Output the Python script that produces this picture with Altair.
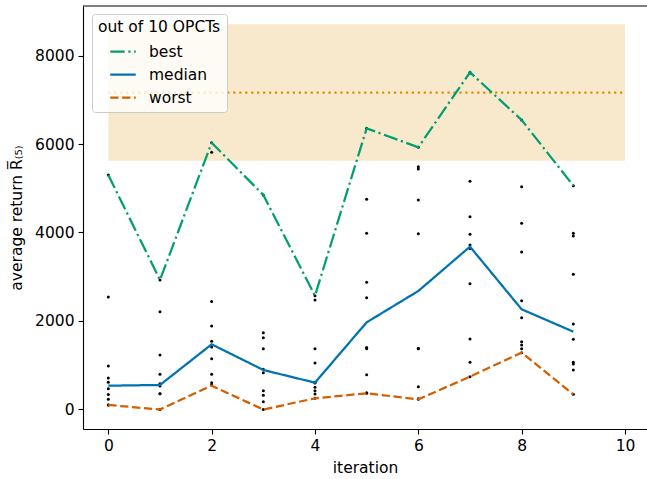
import altair as alt
import pandas as pd

# ---- data ----
iterations = [0, 1, 2, 3, 4, 5, 6, 7, 8, 9]
best = [5300, 2927, 6030, 4847, 2572, 6354, 5925, 7620, 6542, 5058]
median = [538, 554, 1473, 893, 606, 1970, 2678, 3680, 2264, 1759]
worst = [102, 0, 539, 0, 252, 366, 230, 742, 1284, 343]

opct_it0 = [5300, 2540, 983, 712, 615, 466, 340, 230, 102, 102]
opct_it1 = [2927, 2210, 1232, 795, 580, 528, 357, 357, 0, 0]
opct_it2 = [6030, 5812, 2440, 1887, 1541, 1412, 1149, 795, 606, 554]
opct_it3 = [4847, 1736, 1623, 1374, 908, 832, 425, 321, 176, 0]
opct_it4 = [2572, 2475, 1370, 1050, 610, 600, 502, 425, 350, 252]
opct_it5 = [6354, 4750, 3982, 2875, 2527, 1400, 1370, 787, 380, 366]
opct_it6 = [5925, 5487, 5435, 4734, 3973, 1385, 1370, 515, 240, 230]
opct_it7 = [7620, 5157, 4357, 3959, 3720, 3640, 2843, 1593, 1066, 742]
opct_it8 = [6542, 5035, 4208, 3559, 2459, 2075, 1533, 1458, 1374, 1284]
opct_it9 = [5058, 3982, 3921, 3055, 1932, 1586, 1066, 1028, 893, 343]

band_x = [0, 10]
band_low = 5623
band_high = 8705
target = 7160

series_names = ["best", "median", "worst"]
series_colors = ["#029E73", "#0173B2", "#D55E00"]
series_dashes = [[14.4, 3.6, 2.25, 3.6], [1, 0], [8.3, 3.6]]
x_ticks = [0, 2, 4, 6, 8, 10]
y_ticks = [0, 2000, 4000, 6000, 8000]

# ---- tables ----
opct_lists = [opct_it0, opct_it1, opct_it2, opct_it3, opct_it4,
              opct_it5, opct_it6, opct_it7, opct_it8, opct_it9]
dots_df = pd.DataFrame(
    [{"iteration": it, "ret": v} for it, vals in zip(iterations, opct_lists) for v in vals]
)
lines_df = pd.DataFrame(
    [{"iteration": it, "ret": v, "series": name}
     for name, vals in zip(series_names, [best, median, worst])
     for it, v in zip(iterations, vals)]
)
band_df = pd.DataFrame({"x0": [band_x[0]], "x1": [band_x[1]], "lo": [band_low], "hi": [band_high]})
target_df = pd.DataFrame({"x0": [band_x[0]], "x1": [band_x[1]], "t": [target]})

# ---- scales / axes ----
PW, PH = 564, 423
FS = 15.5
x_scale = alt.Scale(domain=[-0.49, 10.426], nice=False, zero=False)
y_scale = alt.Scale(domain=[-441, 9119], nice=False, zero=False)
x_axis = alt.Axis(title="iteration", values=x_ticks, format="d", labelFlush=False)
y_axis = alt.Axis(title="average return R\u0305\u208d\u2085\u208e", values=y_ticks, format="d")


def X(field):
    return alt.X(field, type="quantitative", scale=x_scale, axis=x_axis)


def Y(field):
    return alt.Y(field, type="quantitative", scale=y_scale, axis=y_axis)


band = alt.Chart(band_df).mark_rect(color="#DE8F05", opacity=0.2).encode(
    x=X("x0"), x2="x1", y=Y("lo"), y2="hi"
)
target_line = alt.Chart(target_df).mark_rule(
    color="#DE8F05", strokeWidth=2.25, strokeDash=[2.25, 3.7]
).encode(x=X("x0"), x2="x1", y=Y("t"))

dots = alt.Chart(dots_df).mark_circle(size=9, color="black", opacity=1).encode(
    x=X("iteration"), y=Y("ret")
)

legend_title = "out of 10 OPCTs"
lines = alt.Chart(lines_df).mark_line(strokeWidth=2.25).encode(
    x=X("iteration"),
    y=Y("ret"),
    color=alt.Color("series:N", scale=alt.Scale(domain=series_names, range=series_colors),
                    sort=series_names, legend=alt.Legend(title=legend_title)),
    strokeDash=alt.StrokeDash("series:N", scale=alt.Scale(domain=series_names, range=series_dashes),
                              sort=series_names, legend=alt.Legend(title=legend_title)),
)

top_spine = alt.Chart(band_df).mark_rule(color="black", strokeWidth=1.1).encode(
    x=alt.value(0), x2=alt.value(PW), y=alt.value(0)
)

chart = alt.layer(band, target_line, dots, lines, top_spine).properties(
    width=PW, height=PH,
    autosize=alt.AutoSizeParams(type="none"),
    padding={"left": 83, "top": 6, "right": 0, "bottom": 50},
    background="white",
).configure_view(stroke=None).configure_axis(
    labelFont="DejaVu Sans", titleFont="DejaVu Sans",
    labelFontSize=FS, titleFontSize=FS, titleFontWeight="normal",
    labelColor="black", titleColor="black",
    tickColor="black", domainColor="black",
    tickSize=5, tickWidth=1.1, domainWidth=1.1,
    grid=False, labelPadding=4,
).configure_axisX(titlePadding=7).configure_axisY(titlePadding=10).configure_legend(
    orient="none", legendX=9, legendY=8,
    fillColor="rgba(255,255,255,0.8)", strokeColor="#cccccc", cornerRadius=3,
    padding=6,
    titleFont="DejaVu Sans", titleFontSize=FS, titleFontWeight="normal", titleColor="black",
    labelFont="DejaVu Sans", labelFontSize=FS, labelColor="black",
    symbolType="stroke", symbolSize=650, symbolStrokeWidth=2.25,
    symbolOffset=11, labelOffset=12, rowPadding=0, titlePadding=2,
)

chart.save("out.html", embed_options={"renderer": "svg", "actions": False})
